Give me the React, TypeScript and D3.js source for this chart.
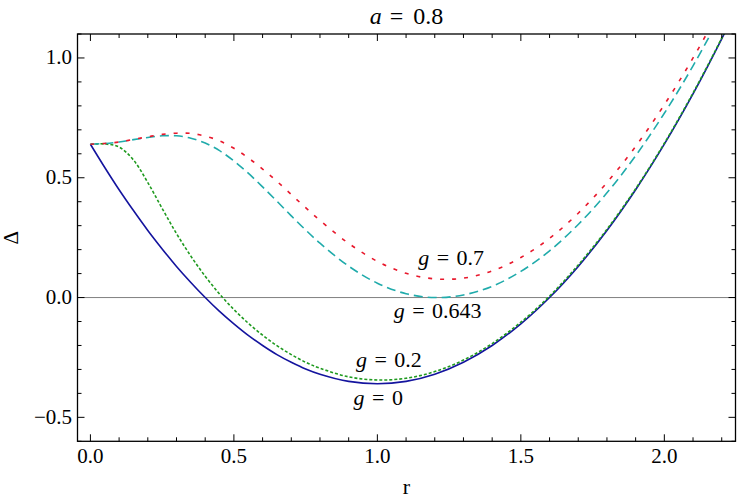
import React from 'react';
import * as d3 from 'd3';

// sampled radius values shared by every curve
const rValues = [
  0, 0.05, 0.1, 0.15, 0.2, 0.25, 0.3, 0.35, 0.4, 0.45, 0.5, 0.55, 0.6, 0.65, 0.7, 0.75, 0.8,
  0.9, 1.0, 1.1, 1.2, 1.3, 1.4, 1.5, 1.6, 1.7, 1.8, 1.9, 2.0, 2.1, 2.2, 2.25,
];

// Δ, one array per g
const deltaG0 = [
  0.64, 0.543, 0.45, 0.363, 0.28, 0.203, 0.13, 0.063, 0, -0.058, -0.11, -0.158, -0.2, -0.238, -0.27, -0.298, -0.32,
  -0.35, -0.36, -0.35, -0.32, -0.27, -0.2, -0.11, 0, 0.13, 0.28, 0.45, 0.64, 0.85, 1.08, 1.203,
];
const deltaG02 = [
  0.64, 0.641, 0.628, 0.574, 0.48, 0.372, 0.267, 0.173, 0.089, 0.015, -0.05, -0.107, -0.157, -0.201, -0.238, -0.27, -0.295,
  -0.331, -0.344, -0.337, -0.309, -0.261, -0.192, -0.103, 0.006, 0.136, 0.285, 0.454, 0.644, 0.854, 1.083, 1.206,
];
const deltaG0643 = [
  0.64, 0.643, 0.649, 0.659, 0.668, 0.675, 0.675, 0.665, 0.645, 0.613, 0.57, 0.519, 0.462, 0.402, 0.341, 0.282, 0.227,
  0.131, 0.06, 0.016, 0, 0.011, 0.047, 0.109, 0.195, 0.305, 0.437, 0.592, 0.769, 0.967, 1.187, 1.305,
];
const deltaG07 = [
  0.64, 0.643, 0.649, 0.66, 0.671, 0.681, 0.686, 0.685, 0.674, 0.654, 0.623, 0.583, 0.536, 0.485, 0.43, 0.375, 0.322,
  0.226, 0.151, 0.101, 0.078, 0.081, 0.111, 0.167, 0.247, 0.352, 0.48, 0.631, 0.805, 1.0, 1.217, 1.334,
];

const xMajorTicks = [0, 0.5, 1.0, 1.5, 2.0];
const yMajorTicks = [-0.5, 0, 0.5, 1.0];

const W = 740;
const H = 501;
const FONT = '"Liberation Serif"';

const x = d3.scaleLinear().domain([-0.045, 2.248]).range([77.5, 735.5]);
const y = d3.scaleLinear().domain([-0.6, 1.1]).range([441.3, 34]);

const series = [
  { name: 'g0', values: deltaG0, color: '#14149e', dash: null },
  { name: 'g02', values: deltaG02, color: '#1f9a1f', dash: '3 2' },
  { name: 'g0643', values: deltaG0643, color: '#20abab', dash: '9 5' },
  { name: 'g07', values: deltaG07, color: '#e8182c', dash: '4 8' },
];

const curveLabels = [
  { g: '0.7', r: 1.257, d: 0.134 },
  { g: '0.643', r: 1.21, d: -0.087 },
  { g: '0.2', r: 1.04, d: -0.29 },
  { g: '0', r: 1.003, d: -0.45 },
];

const fmt = (v: number) => (v < 0 ? '\u2212' : '') + Math.abs(v).toFixed(1);

export default function App() {
  const line = d3
    .line<number>()
    .x((_, i) => x(rValues[i]))
    .y((d) => y(d))
    .curve(d3.curveCatmullRom);

  const xMinor = d3.range(0, 2.25, 0.1).filter((v) => !xMajorTicks.some((m) => Math.abs(m - v) < 1e-6));
  const yMinor = d3.range(-0.6, 1.11, 0.1).filter((v) => !yMajorTicks.some((m) => Math.abs(m - v) < 1e-6));

  const [x0, x1] = x.range();
  const [y0, y1] = y.range();
  const major = 7;
  const minor = 4;
  const txt = { fontFamily: FONT };

  return (
    <svg
      width={W}
      height={H}
      viewBox={`0 0 ${W} ${H}`}
      style={{ position: 'absolute', left: 0, top: 0, background: '#fff' }}
    >
      <defs>
        <clipPath id="plot">
          <rect x={x0} y={y1} width={x1 - x0} height={y0 - y1} />
        </clipPath>
      </defs>

      {/* zero line */}
      <line x1={x0} x2={x1} y1={y(0)} y2={y(0)} stroke="#808080" strokeWidth={1} />

      <g clipPath="url(#plot)">
        {series.map((s) => (
          <path
            key={s.name}
            d={line(s.values) || ''}
            fill="none"
            stroke={s.color}
            strokeWidth={1.6}
            strokeDasharray={s.dash || undefined}
          />
        ))}
      </g>

      {/* frame */}
      <rect x={x0} y={y1} width={x1 - x0} height={y0 - y1} fill="none" stroke="#000" strokeWidth={1.3} />

      {/* x ticks, bottom and top */}
      {xMajorTicks.map((v) => (
        <g key={'xm' + v}>
          <line x1={x(v)} x2={x(v)} y1={y0} y2={y0 - major} stroke="#000" />
          <line x1={x(v)} x2={x(v)} y1={y1} y2={y1 + major} stroke="#000" />
          <text x={x(v)} y={463} textAnchor="middle" fontSize={21} style={txt}>
            {fmt(v)}
          </text>
        </g>
      ))}
      {xMinor.map((v) => (
        <g key={'xn' + v}>
          <line x1={x(v)} x2={x(v)} y1={y0} y2={y0 - minor} stroke="#000" />
          <line x1={x(v)} x2={x(v)} y1={y1} y2={y1 + minor} stroke="#000" />
        </g>
      ))}

      {/* y ticks, left and right */}
      {yMajorTicks.map((v) => (
        <g key={'ym' + v}>
          <line x1={x0} x2={x0 + major} y1={y(v)} y2={y(v)} stroke="#000" />
          <line x1={x1} x2={x1 - major} y1={y(v)} y2={y(v)} stroke="#000" />
          <text x={72} y={y(v) + 6.5} textAnchor="end" fontSize={21} style={txt}>
            {fmt(v)}
          </text>
        </g>
      ))}
      {yMinor.map((v) => (
        <g key={'yn' + v}>
          <line x1={x0} x2={x0 + minor} y1={y(v)} y2={y(v)} stroke="#000" />
          <line x1={x1} x2={x1 - minor} y1={y(v)} y2={y(v)} stroke="#000" />
        </g>
      ))}

      {/* axis labels */}
      <text x={(x0 + x1) / 2} y={494} textAnchor="middle" fontSize={22} style={txt}>
        r
      </text>
      <text
        transform={`translate(18, ${(y0 + y1) / 2}) rotate(-90)`}
        textAnchor="middle"
        fontSize={21}
        style={txt}
      >
        Δ
      </text>

      {/* title */}
      <text x={(x0 + x1) / 2} y={24} textAnchor="middle" fontSize={24} style={txt}>
        <tspan fontStyle="italic">a</tspan>
        <tspan dx={8}>=</tspan>
        <tspan dx={10}>0.8</tspan>
      </text>

      {/* curve labels */}
      {curveLabels.map((l) => (
        <text key={l.g} x={x(l.r)} y={y(l.d)} textAnchor="middle" fontSize={22} style={txt}>
          <tspan fontStyle="italic">g</tspan>
          <tspan dx={7.5}>=</tspan>
          <tspan dx={7.5}>{l.g}</tspan>
        </text>
      ))}
    </svg>
  );
}
